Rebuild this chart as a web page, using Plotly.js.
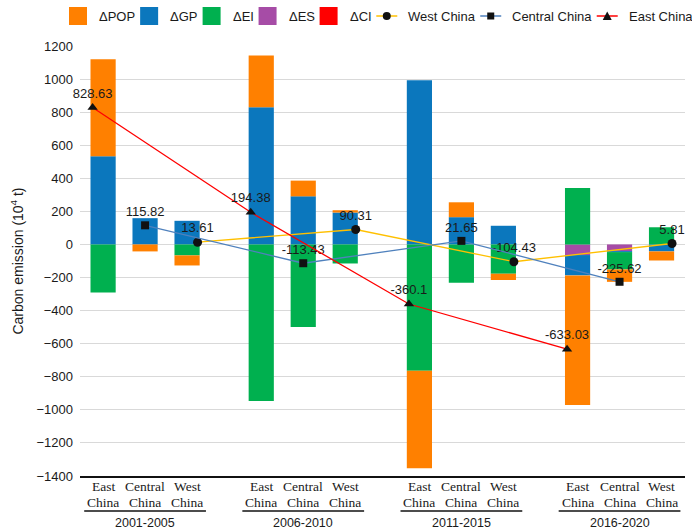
<!DOCTYPE html>
<html>
<head>
<meta charset="utf-8">
<script src="https://cdn.plot.ly/plotly-3.0.1.min.js"></script>
<style>
  html, body { margin: 0; padding: 0; background: #fff; }
  #chart { width: 692px; height: 530px; }
</style>
</head>
<body>
<div id="chart"></div>
<script>
// periods and regions (bars run period by period: East, Central, West)
const periods = ['2001-2005', '2006-2010', '2011-2015', '2016-2020']
const regions = ['East China', 'Central China', 'West China']
const regionLines = [['East', 'China'], ['Central', 'China'], ['West', 'China']]

// decomposition effects, 10^4 t
const dPOP = [587, -42, -61, 312, 95, 14, -589, 90, -38, -784, -75, -55]
const dGP  = [533, 159, 143, 830, 291, 193, 993, 165, 113, -123, -6, -42]
const dEI  = [-291, 0, -66, -947, -499, -115, -764, -231, -177, 342, -105, 104]
const dES  = [0, 0, 0, 0, 0, 0, 0, 0, 0, -64, -40, 0]
const dCI  = [0, 0, 0, 0, 0, 0, 0, 0, 0, 0, 0, 0]

// total change per region and period
const westTotal    = [13.61, 90.31, -104.43, 5.81]
const centralTotal = [115.82, -113.43, 21.65, -225.62]
const eastTotal    = [828.63, 194.38, -360.1, -633.03]

const W = 692, H = 530
const M = { l: 80, r: 7, t: 46, b: 54 }
const PW = W - M.l - M.r, PH = H - M.t - M.b
const px = v => (v - M.l) / PW
const py = v => 1 - (v - M.t) / PH

const groupStep = 3.767
const pos = (g, r) => g * groupStep + r
const xs = []
periods.forEach((p, g) => regions.forEach((r, i) => xs.push(pos(g, i))))

const sans = 'Liberation Sans, Arial, sans-serif'
const serif = 'Liberation Serif, Times New Roman, serif'
const ink = '#1a1a1a'

// stacking order matches the picture: ES nearest zero, then GP, EI, POP
const barDefs = [
  { name: 'ΔES', y: dES, color: '#A64CA6' },
  { name: 'ΔGP', y: dGP, color: '#0B77BD' },
  { name: 'ΔEI', y: dEI, color: '#00B04F' },
  { name: 'ΔPOP', y: dPOP, color: '#FF8000' },
  { name: 'ΔCI', y: dCI, color: '#FF0000' }
]
const data = barDefs.map(b => ({
  type: 'bar', name: b.name, x: xs, y: b.y, width: 0.6,
  marker: { color: b.color, line: { width: 0 } },
  hoverinfo: 'skip', showlegend: false
}))

// East points sit on the left edge of their bar, West on the right edge
const lineDefs = [
  { name: 'West China', y: westTotal, r: 2, off: 0.25, color: '#FFC000', symbol: 'circle', size: 9 },
  { name: 'Central China', y: centralTotal, r: 1, off: 0, color: '#4F81BD', symbol: 'square', size: 8 },
  { name: 'East China', y: eastTotal, r: 0, off: -0.25, color: '#FF0000', symbol: 'triangle-up', size: 9 }
]
lineDefs.forEach(l => {
  data.push({
    type: 'scatter', mode: 'lines+markers+text', name: l.name,
    x: periods.map((p, g) => pos(g, l.r) + l.off), y: l.y,
    text: l.y.map(String), textposition: 'top center',
    textfont: { family: sans, size: 13, color: ink },
    line: { color: l.color, width: 1.3 },
    marker: { color: '#111', symbol: l.symbol, size: l.size },
    hoverinfo: 'skip', showlegend: false, cliponaxis: false
  })
})

// hand-made legend on one row across the top
const shapes = []
const annotations = []
const ctx = document.createElement('canvas').getContext('2d')
ctx.font = '13px "Liberation Sans"'
const legendItems = [
  ...['ΔPOP', 'ΔGP', 'ΔEI', 'ΔES', 'ΔCI'].map(n => ({ kind: 'box', def: barDefs.find(b => b.name === n) })),
  ...lineDefs.map(l => ({ kind: 'line', def: l }))
]
let lx = 69
const ly = 16
legendItems.forEach(it => {
  const d = it.def
  if (it.kind === 'box') {
    shapes.push({ type: 'rect', xref: 'paper', yref: 'paper', x0: px(lx), x1: px(lx + 18), y0: py(ly + 9), y1: py(ly - 9),
      fillcolor: d.color, line: { width: 0 } })
    lx += 18 + 10
  } else {
    shapes.push({ type: 'line', xref: 'paper', yref: 'paper', x0: px(lx), x1: px(lx + 21), y0: py(ly), y1: py(ly),
      line: { color: d.color, width: 1.5 } })
    const cx = lx + 10.5
    if (d.symbol === 'circle') {
      shapes.push({ type: 'circle', xref: 'paper', yref: 'paper', x0: px(cx - 4), x1: px(cx + 4), y0: py(ly + 4), y1: py(ly - 4),
        fillcolor: '#111', line: { width: 0 } })
    } else if (d.symbol === 'square') {
      shapes.push({ type: 'rect', xref: 'paper', yref: 'paper', x0: px(cx - 3.5), x1: px(cx + 3.5), y0: py(ly + 3.5), y1: py(ly - 3.5),
        fillcolor: '#111', line: { width: 0 } })
    } else {
      shapes.push({ type: 'path', xref: 'paper', yref: 'paper',
        path: `M${px(cx - 4.5)},${py(ly + 4)} L${px(cx + 4.5)},${py(ly + 4)} L${px(cx)},${py(ly - 4.5)} Z`,
        fillcolor: '#111', line: { width: 0 } })
    }
    lx += 21 + 9
  }
  annotations.push({ xref: 'paper', yref: 'paper', x: px(lx), y: py(ly), xanchor: 'left', yanchor: 'middle',
    text: d.name, showarrow: false, font: { family: sans, size: 13, color: ink } })
  lx += ctx.measureText(d.name).width + 7
})

// region labels (two lines, serif), underline and period label under each group
periods.forEach((p, g) => {
  regionLines.forEach((lines, i) => {
    lines.forEach((t, k) => {
      annotations.push({ xref: 'x', yref: 'paper', x: pos(g, i), y: py(486 + k * 16.5), xanchor: 'center', yanchor: 'middle',
        text: t, showarrow: false, font: { family: serif, size: 13.5, color: ink } })
    })
  })
  shapes.push({ type: 'line', xref: 'x', yref: 'paper', x0: pos(g, 0) - 0.45, x1: pos(g, 2) + 0.45,
    y0: py(511), y1: py(511), line: { color: '#111', width: 1.5 } })
  annotations.push({ xref: 'x', yref: 'paper', x: pos(g, 1), y: py(523), xanchor: 'center', yanchor: 'middle',
    text: p, showarrow: false, font: { family: sans, size: 12.5, color: ink } })
})

const layout = {
  width: W, height: H,
  margin: M,
  paper_bgcolor: '#fff', plot_bgcolor: '#fff',
  barmode: 'relative',
  showlegend: false,
  font: { family: sans, color: ink },
  xaxis: {
    range: [-0.55, 13.86], showticklabels: false,
    showgrid: false, zeroline: false, ticks: '',
    showline: true, linecolor: '#111', linewidth: 1.5, fixedrange: true
  },
  yaxis: {
    range: [-1400, 1200], dtick: 200, tickfont: { family: sans, size: 13, color: ink },
    gridcolor: '#d9d9d9', gridwidth: 1, zeroline: false, showline: false, ticks: '',
    ticklabelstandoff: 6,
    title: { text: 'Carbon emission (10<sup>4</sup> t)', font: { family: sans, size: 14, color: ink }, standoff: 9 },
    fixedrange: true
  },
  shapes, annotations
}

Plotly.newPlot('chart', data, layout, { displayModeBar: false, staticPlot: true })
</script>
</body>
</html>
